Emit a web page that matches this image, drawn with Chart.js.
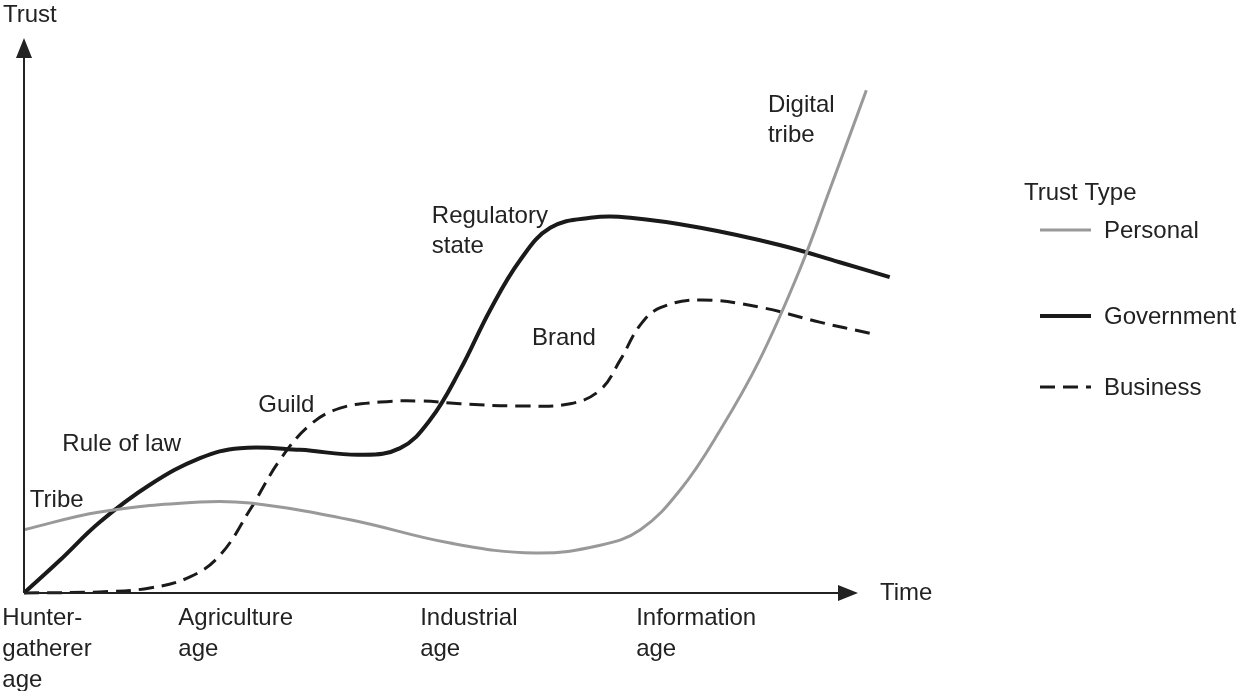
<!DOCTYPE html>
<html>
<head>
<meta charset="utf-8">
<script src="https://cdn.jsdelivr.net/npm/chart.js@4"></script>
<style>
  html, body { margin: 0; padding: 0; background: #fff; }
  #wrap { width: 1241px; height: 691px; }
</style>
</head>
<body>
<div id="wrap"><canvas id="trustChart" width="1241" height="691"></canvas></div>
<script>
// data (time 0-100, trust 0-100)
var personalX = [0, 9.1, 21.1, 27.1, 39.1, 51.1, 61.3, 69.1, 73.9, 78.7, 83.5, 88.2, 93.0, 96.6, 101.0];
var personalY = [11.4, 14.6, 16.4, 16.2, 13.2, 9.0, 7.2, 8.6, 11.4, 18.6, 29.4, 42.0, 58.2, 72.6, 90.6];

var governmentX = [0, 4.3, 9.1, 15.1, 21.1, 25.9, 33.1, 40.3, 45.1, 48.7, 52.3, 55.9, 59.5, 63.1, 67.9, 72.7, 81.1, 90.6, 97.8, 103.8];
var governmentY = [0, 5.9, 12.8, 19.5, 24.3, 26.1, 25.8, 24.9, 26.1, 31.2, 40.2, 51.0, 60.0, 65.8, 67.6, 67.6, 65.8, 62.7, 59.6, 56.9];

var businessX = [0, 9.1, 15.1, 19.9, 23.5, 27.1, 30.7, 34.3, 37.9, 42.7, 47.5, 52.3, 59.5, 65.5, 69.1, 71.5, 73.9, 76.3, 81.1, 88.2, 95.4, 101.4];
var businessY = [0, 0.2, 0.9, 2.9, 6.8, 15.0, 24.0, 30.3, 33.3, 34.4, 34.6, 34.1, 33.7, 34.1, 36.6, 42.0, 48.3, 51.4, 52.8, 51.5, 48.8, 46.8];

var ageLabels = [['Hunter-', 'gatherer', 'age'], ['Agriculture', 'age'], ['Industrial', 'age'], ['Information', 'age']];
var ageTicks = [-2.6, 18.5, 47.5, 73.4];

var eraNotes = [['Tribe'], ['Rule of law'], ['Guild'], ['Regulatory', 'state'], ['Brand'], ['Digital', 'tribe']];
var seriesNames = ['Personal', 'Government', 'Business'];

function pts(xs, ys) {
    return xs.map(function (x, i) { return { x: x, y: ys[i] }; });
}

var FONT = '24px "Liberation Sans", Arial, sans-serif';
var INK = '#222';

// axes with arrows, labels, notes and the legend
var decorPlugin = {
    id: 'decor',
    afterDraw: function (chart) {
        var c = chart.ctx;
        var sx = chart.scales.x, sy = chart.scales.y;
        var x0 = sx.getPixelForValue(0), y0 = sy.getPixelForValue(0);
        var x1 = sx.getPixelForValue(100), y1 = sy.getPixelForValue(100);
        c.save();
        c.strokeStyle = INK;
        c.fillStyle = INK;
        c.lineWidth = 2;
        c.beginPath();
        c.moveTo(x0, y0); c.lineTo(x0, y1 + 14);
        c.moveTo(x0, y0); c.lineTo(x1 - 14, y0);
        c.stroke();
        c.beginPath();
        c.moveTo(x0, y1); c.lineTo(x0 - 8, y1 + 20); c.lineTo(x0 + 8, y1 + 20); c.closePath();
        c.fill();
        c.beginPath();
        c.moveTo(x1, y0); c.lineTo(x1 - 20, y0 - 8); c.lineTo(x1 - 20, y0 + 8); c.closePath();
        c.fill();

        c.font = FONT;
        c.textBaseline = 'middle';
        c.textAlign = 'left';
        c.fillText('Trust', 3, 15);
        c.fillText('Time', x1 + 22, y0);

        ageLabels.forEach(function (lines, i) {
            var px = sx.getPixelForValue(ageTicks[i]);
            lines.forEach(function (t, j) { c.fillText(t, px, 618 + j * 31); });
        });

        var notePos = [[0.7, 16.6], [4.6, 26.8], [28.1, 33.8], [48.9, 67.8], [60.9, 45.9], [89.2, 87.8]];
        eraNotes.forEach(function (lines, i) {
            var px = sx.getPixelForValue(notePos[i][0]);
            var py = sy.getPixelForValue(notePos[i][1]);
            lines.forEach(function (t, j) { c.fillText(t, px, py + j * 30); });
        });

        // legend
        c.fillText('Trust Type', 1024, 193);
        var rows = [230, 316, 387];
        chart.data.datasets.forEach(function (ds, i) {
            c.save();
            c.strokeStyle = ds.borderColor;
            c.lineWidth = ds.borderWidth;
            c.setLineDash(ds.borderDash || []);
            c.beginPath();
            c.moveTo(1040, rows[i]); c.lineTo(1091, rows[i]);
            c.stroke();
            c.restore();
            c.fillText(ds.label, 1104, rows[i] + 1);
        });
        c.restore();
    }
};

var ctx = document.getElementById('trustChart').getContext('2d');
var trustChart = new Chart(ctx, {
    type: 'line',
    data: {
        datasets: [{
            label: seriesNames[0],
            data: pts(personalX, personalY),
            borderColor: '#999',
            borderWidth: 3,
            tension: 0.4,
            clip: false,
            pointRadius: 0
        }, {
            label: seriesNames[1],
            data: pts(governmentX, governmentY),
            borderColor: '#1a1a1a',
            borderWidth: 4,
            tension: 0.4,
            clip: false,
            pointRadius: 0
        }, {
            label: seriesNames[2],
            data: pts(businessX, businessY),
            borderColor: '#1a1a1a',
            borderWidth: 3,
            borderDash: [15, 8],
            tension: 0.4,
            clip: false,
            pointRadius: 0
        }]
    },
    options: {
        responsive: false,
        animation: false,
        layout: { padding: { left: 24, right: 383, top: 38, bottom: 98 } },
        plugins: { legend: { display: false }, tooltip: { enabled: false } },
        scales: {
            x: { type: 'linear', min: 0, max: 100, display: false },
            y: { min: 0, max: 100, display: false }
        }
    },
    plugins: [decorPlugin]
});
</script>
</body>
</html>
